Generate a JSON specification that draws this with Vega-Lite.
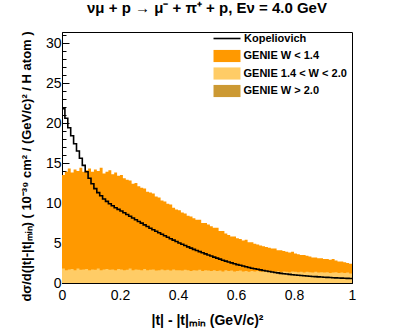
{
  "$schema": "https://vega.github.io/schema/vega-lite/v6.json",
  "width": 290,
  "height": 251,
  "autosize": {"type": "none"},
  "padding": {"left": 62, "top": 32, "right": 63, "bottom": 52},
  "background": "white",
  "title": {"text": "νμ + p → μ⁻ + π⁺ + p, Eν = 4.0 GeV", "font": "Liberation Sans", "fontSize": 15, "fontWeight": "bold", "color": "black", "offset": 12, "anchor": "middle"},
  "config": {
    "view": {"stroke": "black", "strokeWidth": 1},
    "axis": {"grid": false, "zindex": 1, "domainColor": "black", "tickColor": "black", "labelColor": "black", "titleColor": "black", "labelFont": "Liberation Sans", "labelFontSize": 14, "titleFont": "Liberation Sans", "titleFontWeight": "bold", "labelFlush": false, "labelOverlap": false}
  },
  "datasets": {
    "hist": [
      {"t":0,"tot":13.5,"lo":1.8},{"t":0.01,"tot":13.9,"lo":1.6},{"t":0.02,"tot":14.3,"lo":1.7},{"t":0.03,"tot":13.8,"lo":1.75},{"t":0.04,"tot":14.2,"lo":1.6},
      {"t":0.05,"tot":14.0,"lo":1.8},{"t":0.06,"tot":14.4,"lo":1.65},{"t":0.07,"tot":13.9,"lo":1.7},{"t":0.08,"tot":14.1,"lo":1.75},{"t":0.09,"tot":14.3,"lo":1.6},
      {"t":0.1,"tot":13.9,"lo":1.7},{"t":0.11,"tot":14.2,"lo":1.65},{"t":0.12,"tot":14.0,"lo":1.8},{"t":0.13,"tot":14.4,"lo":1.6},{"t":0.14,"tot":13.7,"lo":1.7},
      {"t":0.15,"tot":13.9,"lo":1.75},{"t":0.16,"tot":14.1,"lo":1.65},{"t":0.17,"tot":13.6,"lo":1.7},{"t":0.18,"tot":13.8,"lo":1.6},{"t":0.19,"tot":13.4,"lo":1.75},
      {"t":0.2,"tot":13.5,"lo":1.7},{"t":0.21,"tot":13.1,"lo":1.6},{"t":0.22,"tot":12.9,"lo":1.65},{"t":0.23,"tot":12.8,"lo":1.8},{"t":0.24,"tot":12.4,"lo":1.6},
      {"t":0.25,"tot":12.5,"lo":1.7},{"t":0.26,"tot":12.1,"lo":1.65},{"t":0.27,"tot":11.9,"lo":1.6},{"t":0.28,"tot":11.8,"lo":1.75},{"t":0.29,"tot":11.4,"lo":1.6},
      {"t":0.3,"tot":11.3,"lo":1.65},{"t":0.31,"tot":11.2,"lo":1.7},{"t":0.32,"tot":10.8,"lo":1.55},{"t":0.33,"tot":10.7,"lo":1.6},{"t":0.34,"tot":10.3,"lo":1.7},
      {"t":0.35,"tot":10.2,"lo":1.6},{"t":0.36,"tot":9.9,"lo":1.65},{"t":0.37,"tot":9.8,"lo":1.55},{"t":0.38,"tot":9.4,"lo":1.7},{"t":0.39,"tot":9.2,"lo":1.6},
      {"t":0.4,"tot":9.1,"lo":1.6},{"t":0.41,"tot":8.8,"lo":1.55},{"t":0.42,"tot":8.7,"lo":1.65},{"t":0.43,"tot":8.4,"lo":1.6},{"t":0.44,"tot":8.3,"lo":1.5},
      {"t":0.45,"tot":8.1,"lo":1.6},{"t":0.46,"tot":7.9,"lo":1.55},{"t":0.47,"tot":7.9,"lo":1.65},{"t":0.48,"tot":7.5,"lo":1.5},{"t":0.49,"tot":7.5,"lo":1.6},
      {"t":0.5,"tot":7.3,"lo":1.55},{"t":0.51,"tot":7.1,"lo":1.5},{"t":0.52,"tot":6.9,"lo":1.6},{"t":0.53,"tot":6.9,"lo":1.5},{"t":0.54,"tot":6.5,"lo":1.55},
      {"t":0.55,"tot":6.5,"lo":1.45},{"t":0.56,"tot":6.2,"lo":1.6},{"t":0.57,"tot":6.0,"lo":1.5},{"t":0.58,"tot":5.8,"lo":1.55},{"t":0.59,"tot":5.8,"lo":1.45},
      {"t":0.6,"tot":5.6,"lo":1.5},{"t":0.61,"tot":5.5,"lo":1.55},{"t":0.62,"tot":5.3,"lo":1.45},{"t":0.63,"tot":5.4,"lo":1.5},{"t":0.64,"tot":5.1,"lo":1.4},
      {"t":0.65,"tot":5.1,"lo":1.5},{"t":0.66,"tot":4.9,"lo":1.45},{"t":0.67,"tot":4.8,"lo":1.5},{"t":0.68,"tot":4.7,"lo":1.4},{"t":0.69,"tot":4.6,"lo":1.45},
      {"t":0.7,"tot":4.5,"lo":1.5},{"t":0.71,"tot":4.4,"lo":1.4},{"t":0.72,"tot":4.3,"lo":1.45},{"t":0.73,"tot":4.3,"lo":1.4},{"t":0.74,"tot":4.1,"lo":1.5},
      {"t":0.75,"tot":4.1,"lo":1.35},{"t":0.76,"tot":4.0,"lo":1.45},{"t":0.77,"tot":3.9,"lo":1.4},{"t":0.78,"tot":3.8,"lo":1.35},{"t":0.79,"tot":3.9,"lo":1.45},
      {"t":0.8,"tot":3.7,"lo":1.4},{"t":0.81,"tot":3.6,"lo":1.35},{"t":0.82,"tot":3.5,"lo":1.4},{"t":0.83,"tot":3.5,"lo":1.3},{"t":0.84,"tot":3.4,"lo":1.4},
      {"t":0.85,"tot":3.3,"lo":1.35},{"t":0.86,"tot":3.2,"lo":1.3},{"t":0.87,"tot":3.2,"lo":1.4},{"t":0.88,"tot":3.1,"lo":1.3},{"t":0.89,"tot":3.1,"lo":1.35},
      {"t":0.9,"tot":3.0,"lo":1.3},{"t":0.91,"tot":3.0,"lo":1.35},{"t":0.92,"tot":2.9,"lo":1.25},{"t":0.93,"tot":3.0,"lo":1.3},{"t":0.94,"tot":2.8,"lo":1.35},
      {"t":0.95,"tot":2.7,"lo":1.25},{"t":0.96,"tot":2.7,"lo":1.3},{"t":0.97,"tot":2.6,"lo":1.25},{"t":0.98,"tot":2.5,"lo":1.3},{"t":0.99,"tot":2.4,"lo":1.2},
      {"t":1,"tot":2.4,"lo":1.2}
    ],
    "kop": [
      {"t":0,"v":21.8},{"t":0.01,"v":20.6},{"t":0.02,"v":19.4},{"t":0.03,"v":18.4},{"t":0.04,"v":17.4},{"t":0.05,"v":16.5},{"t":0.06,"v":15.6},{"t":0.07,"v":14.7},{"t":0.08,"v":13.9},{"t":0.09,"v":13.1},
      {"t":0.1,"v":12.4},{"t":0.11,"v":11.8},{"t":0.12,"v":11.3},{"t":0.13,"v":10.9},{"t":0.14,"v":10.5},{"t":0.15,"v":10.2},{"t":0.16,"v":9.9},{"t":0.17,"v":9.65},{"t":0.18,"v":9.4},{"t":0.19,"v":9.2},
      {"t":0.2,"v":9.0},{"t":0.21,"v":8.78},{"t":0.22,"v":8.56},{"t":0.23,"v":8.34},{"t":0.24,"v":8.12},{"t":0.25,"v":7.9},{"t":0.26,"v":7.69},{"t":0.27,"v":7.48},{"t":0.28,"v":7.27},{"t":0.29,"v":7.06},
      {"t":0.3,"v":6.85},{"t":0.31,"v":6.66},{"t":0.32,"v":6.47},{"t":0.33,"v":6.28},{"t":0.34,"v":6.09},{"t":0.35,"v":5.9},{"t":0.36,"v":5.72},{"t":0.37,"v":5.54},{"t":0.38,"v":5.36},{"t":0.39,"v":5.18},
      {"t":0.4,"v":5.0},{"t":0.41,"v":4.84},{"t":0.42,"v":4.68},{"t":0.43,"v":4.52},{"t":0.44,"v":4.36},{"t":0.45,"v":4.2},{"t":0.46,"v":4.06},{"t":0.47,"v":3.92},{"t":0.48,"v":3.78},{"t":0.49,"v":3.64},
      {"t":0.5,"v":3.5},{"t":0.51,"v":3.37},{"t":0.52,"v":3.24},{"t":0.53,"v":3.11},{"t":0.54,"v":2.98},{"t":0.55,"v":2.85},{"t":0.56,"v":2.74},{"t":0.57,"v":2.63},{"t":0.58,"v":2.52},{"t":0.59,"v":2.41},
      {"t":0.6,"v":2.3},{"t":0.61,"v":2.21},{"t":0.62,"v":2.12},{"t":0.63,"v":2.03},{"t":0.64,"v":1.94},{"t":0.65,"v":1.85},{"t":0.66,"v":1.78},{"t":0.67,"v":1.71},{"t":0.68,"v":1.64},{"t":0.69,"v":1.57},
      {"t":0.7,"v":1.5},{"t":0.71,"v":1.44},{"t":0.72,"v":1.38},{"t":0.73,"v":1.32},{"t":0.74,"v":1.26},{"t":0.75,"v":1.2},{"t":0.76,"v":1.16},{"t":0.77,"v":1.12},{"t":0.78,"v":1.08},{"t":0.79,"v":1.04},
      {"t":0.8,"v":1.0},{"t":0.81,"v":0.97},{"t":0.82,"v":0.94},{"t":0.83,"v":0.91},{"t":0.84,"v":0.88},{"t":0.85,"v":0.85},{"t":0.86,"v":0.82},{"t":0.87,"v":0.8},{"t":0.88,"v":0.77},{"t":0.89,"v":0.75},
      {"t":0.9,"v":0.72},{"t":0.91,"v":0.7},{"t":0.92,"v":0.68},{"t":0.93,"v":0.66},{"t":0.94,"v":0.64},{"t":0.95,"v":0.62},{"t":0.96,"v":0.61},{"t":0.97,"v":0.59},{"t":0.98,"v":0.58},{"t":0.99,"v":0.56},
      {"t":1,"v":0.56}
    ]
  },
  "encoding": {
    "x": {
      "field": "t", "type": "quantitative",
      "scale": {"domain": [0, 1], "nice": false, "zero": false},
      "axis": {
        "values": [0,0.05,0.1,0.15,0.2,0.25,0.3,0.35,0.4,0.45,0.5,0.55,0.6,0.65,0.7,0.75,0.8,0.85,0.9,0.95,1],
        "labelExpr": "abs(datum.value*5 - round(datum.value*5)) < 0.001 ? format(datum.value, '~g') : ''",
        "tickSize": {"condition": {"test": "abs(datum.value*5 - round(datum.value*5)) < 0.001", "value": -7}, "value": -3.5},
        "labelPadding": 12,
        "title": "|t| - |t|ₘᵢₙ (GeV/c)²",
        "titleFontSize": 14,
        "titlePadding": 8
      }
    },
    "y": {
      "field": "v", "type": "quantitative", "stack": null,
      "scale": {"domain": [0, 31.375], "nice": false},
      "axis": {
        "values": [0,1,2,3,4,5,6,7,8,9,10,11,12,13,14,15,16,17,18,19,20,21,22,23,24,25,26,27,28,29,30,31],
        "labelExpr": "datum.value % 5 == 0 ? format(datum.value, 'd') : ''",
        "tickSize": {"condition": {"test": "datum.value % 5 == 0", "value": -7}, "value": -4},
        "labelPadding": 8,
        "title": "dσ/d(|t|-|t|ₘᵢₙ) ( 10⁻³⁹ cm² / (GeV/c)² / H atom )",
        "titleFontSize": 13,
        "titlePadding": 12,
        "titleY": 134
      }
    }
  },
  "layer": [
    {
      "data": {"name": "hist"},
      "transform": [{"fold": ["tot", "lo"], "as": ["comp", "v"]}],
      "mark": {"type": "area", "interpolate": "step-after"},
      "encoding": {
        "fill": {
          "field": "comp", "type": "nominal",
          "scale": {"domain": ["tot", "lo", "hi"], "range": ["#ff9900", "#ffcc66", "#cc9933"]},
          "legend": {
            "orient": "none", "legendX": 158, "legendY": 17, "title": null, "padding": 0,
            "symbolType": "M-2,-0.9H2V0.9H-2Z", "symbolSize": 182, "symbolStrokeWidth": 0, "symbolOpacity": 1,
            "rowPadding": 3.5, "labelOffset": 9.5,
            "labelFont": "Liberation Sans", "labelFontSize": 11, "labelFontWeight": "bold", "labelColor": "black",
            "labelExpr": "datum.label == 'tot' ? 'GENIE W < 1.4' : datum.label == 'lo' ? 'GENIE 1.4 < W < 2.0' : 'GENIE W > 2.0'"
          }
        }
      }
    },
    {
      "data": {"name": "kop"},
      "mark": {"type": "line", "interpolate": "step-after", "strokeWidth": 1.6},
      "encoding": {
        "stroke": {
          "datum": "Kopeliovich", "type": "nominal",
          "scale": {"domain": ["Kopeliovich"], "range": ["black"]},
          "legend": {
            "orient": "none", "legendX": 157, "legendY": -1.5, "title": null, "padding": 0,
            "symbolType": "M-2,0H2", "symbolSize": 182, "symbolStrokeWidth": 1.6,
            "labelOffset": 9,
            "labelFont": "Liberation Sans", "labelFontSize": 11, "labelFontWeight": "bold", "labelColor": "black"
          }
        }
      }
    }
  ]
}
